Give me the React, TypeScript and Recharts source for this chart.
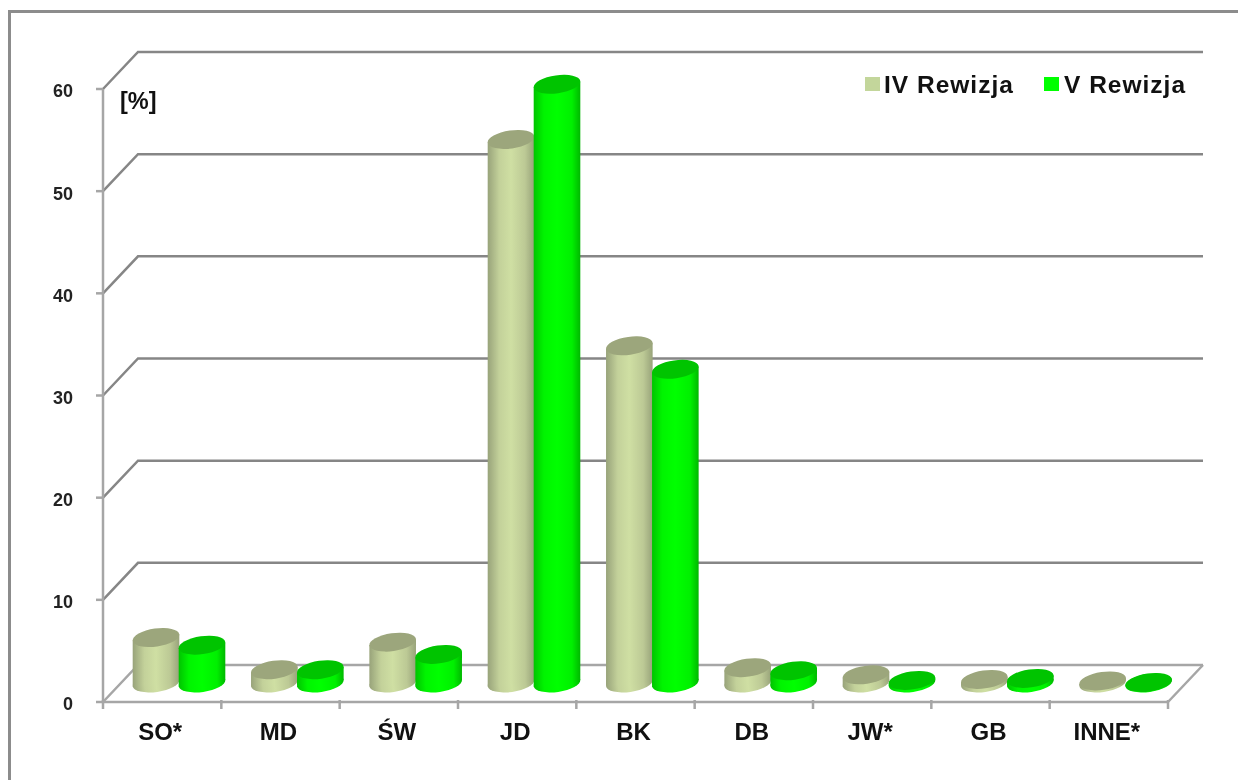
import { BarChart, Bar, XAxis, YAxis, CartesianGrid, Legend } from "recharts";

const categories = ["SO*", "MD", "ŚW", "JD", "BK", "DB", "JW*", "GB", "INNE*"];
const rewizja4 = [4.45, 1.3, 4.0, 53.2, 33.0, 1.5, 0.8, 0.35, 0.2];
const rewizja5 = [3.7, 1.3, 2.8, 58.6, 30.7, 1.2, 0.25, 0.45, 0.05];
const yTicks = [0, 10, 20, 30, 40, 50, 60];

const data = categories.map((name, i) => ({
  name,
  iv: rewizja4[i],
  v: rewizja5[i],
}));

const W = 1238;
const H = 780;
const LEFT = 103;
const RIGHT = 70;
const TOP = 89;
const BOTTOM = 78;
const BAND = (W - LEFT - RIGHT) / categories.length;

// przesuniecie "3D" - sciana tylna i podstawa walcow
const WALL_DX = 35;
const WALL_DY = -37;
const BAR_DX = 17;
const BAR_DY = -19;
const RX = 23.5;
const RY = 9;
const TILT = -8;

const GRID = "#868686";
const AXIS = "#a6a6a6";

const Cylinder = (props: any) => {
  const { x, y, width, height, gradient, topColor } = props;
  const cx = x + width / 2 + BAR_DX;
  const top = y + BAR_DY;
  const base = y + height + BAR_DY;
  const t = (TILT * Math.PI) / 180;
  const R = Math.sqrt(RX * RX * Math.cos(t) ** 2 + RY * RY * Math.sin(t) ** 2);
  const off = (((RX * RX - RY * RY) * Math.sin(-t) * Math.cos(t)) / R) as number;
  const body = `M${cx - R},${top + off} L${cx + R},${top - off} L${cx + R},${base - off} L${cx - R},${base + off} Z`;
  return (
    <g>
      <ellipse cx={cx} cy={base} rx={RX} ry={RY} fill={`url(#${gradient})`} transform={`rotate(${TILT} ${cx} ${base})`} />
      <path d={body} fill={`url(#${gradient})`} />
      <ellipse cx={cx} cy={top} rx={RX} ry={RY} fill={topColor} transform={`rotate(${TILT} ${cx} ${top})`} />
    </g>
  );
};

// linia siatki: skos od osi i dalej po tylnej scianie
const WallLine = (props: any) => {
  const { x1, x2, y1, index } = props;
  const yb = y1 + WALL_DY;
  return (
    <g key={index}>
      <polyline
        points={`${x1},${y1} ${x1 + WALL_DX},${yb} ${x2 + WALL_DX},${yb}`}
        fill="none"
        stroke={y1 > 690 ? AXIS : GRID}
        strokeWidth={2.5}
      />
      {y1 > 690 && (
        <line x1={x2 + WALL_DX} y1={yb} x2={x2} y2={y1} stroke={AXIS} strokeWidth={2.5} />
      )}
    </g>
  );
};

const CategoryTick = (props: any) => {
  const { x, y, payload, index } = props;
  return (
    <g>
      <line x1={x - BAND / 2} x2={x - BAND / 2} y1={y - 14} y2={y - 5} stroke={AXIS} strokeWidth={2.5} />
      {index === categories.length - 1 && (
        <line x1={x + BAND / 2} x2={x + BAND / 2} y1={y - 14} y2={y - 5} stroke={AXIS} strokeWidth={2.5} />
      )}
      <text x={x - 2} y={y + 26} textAnchor="middle" fontSize={24} fontWeight={700} fill="#111">
        {payload.value}
      </text>
    </g>
  );
};

// wysokosc 0, zeby legenda nie zabierala miejsca na wykres
const LegendBox = () => (
  <div style={{ position: "relative", width: 340, height: 0, fontSize: 24.5, lineHeight: "30px", fontWeight: 700, color: "#111", letterSpacing: 1 }}>
    <span style={{ position: "absolute", left: 0, top: 7, width: 15, height: 14, background: "#C3D69B" }} />
    <span style={{ position: "absolute", left: 19, top: 0, whiteSpace: "nowrap" }}>IV Rewizja</span>
    <span style={{ position: "absolute", left: 179, top: 7, width: 15, height: 14, background: "#00FF00" }} />
    <span style={{ position: "absolute", left: 199, top: 0, whiteSpace: "nowrap" }}>V Rewizja</span>
  </div>
);

export default function App() {
  return (
    <div style={{ position: "absolute", left: 0, top: 0, width: W, height: H, overflow: "hidden", background: "#fff", fontFamily: "Liberation Sans, Arial, sans-serif" }}>
      <div style={{ position: "absolute", left: 8, top: 10, width: W, height: H, borderLeft: "3px solid #8c8c8c", borderTop: "3px solid #8c8c8c" }} />
      <BarChart
        width={W}
        height={H}
        data={data}
        barSize={46}
        barGap={0}
        margin={{ top: TOP, right: RIGHT, bottom: 0, left: 0 }}
        style={{ position: "absolute", left: 0, top: 0, filter: "blur(0.5px)" }}
      >
        <defs>
          <linearGradient id="gradIv" x1="0" y1="0" x2="1" y2="0">
            <stop offset="0%" stopColor="#98a37a" />
            <stop offset="25%" stopColor="#c3d19a" />
            <stop offset="50%" stopColor="#cfdfa3" />
            <stop offset="80%" stopColor="#bcc995" />
            <stop offset="100%" stopColor="#98a37a" />
          </linearGradient>
          <linearGradient id="gradV" x1="0" y1="0" x2="1" y2="0">
            <stop offset="0%" stopColor="#00c400" />
            <stop offset="22%" stopColor="#00f400" />
            <stop offset="50%" stopColor="#00ff00" />
            <stop offset="82%" stopColor="#00f000" />
            <stop offset="100%" stopColor="#00b800" />
          </linearGradient>
        </defs>
        <CartesianGrid vertical={false} horizontal={WallLine} />
        <XAxis
          dataKey="name"
          height={BOTTOM}
          interval={0}
          axisLine={{ stroke: AXIS, strokeWidth: 2.5 }}
          tickLine={false}
          tick={CategoryTick}
          tickMargin={6}
        />
        <YAxis
          type="number"
          domain={[0, 60]}
          ticks={yTicks}
          width={LEFT}
          axisLine={{ stroke: AXIS, strokeWidth: 2.5 }}
          tickLine={{ stroke: AXIS, strokeWidth: 2.5 }}
          tickSize={7}
          tickMargin={23}
          tick={{ fontSize: 18, fontWeight: 700, fill: "#222", dy: 2 }}
        />
        <Bar dataKey="iv" name="IV Rewizja" isAnimationActive={false} shape={(p: any) => <Cylinder {...p} gradient="gradIv" topColor="#9ca67c" />} />
        <Bar dataKey="v" name="V Rewizja" isAnimationActive={false} shape={(p: any) => <Cylinder {...p} gradient="gradV" topColor="#00c400" />} />
        <Legend content={LegendBox} wrapperStyle={{ left: 865, top: 70, width: 340, bottom: "auto" }} />
        <text x={120} y={109} fontSize={23.5} fontWeight={700} fill="#111">[%]</text>
      </BarChart>
    </div>
  );
}
